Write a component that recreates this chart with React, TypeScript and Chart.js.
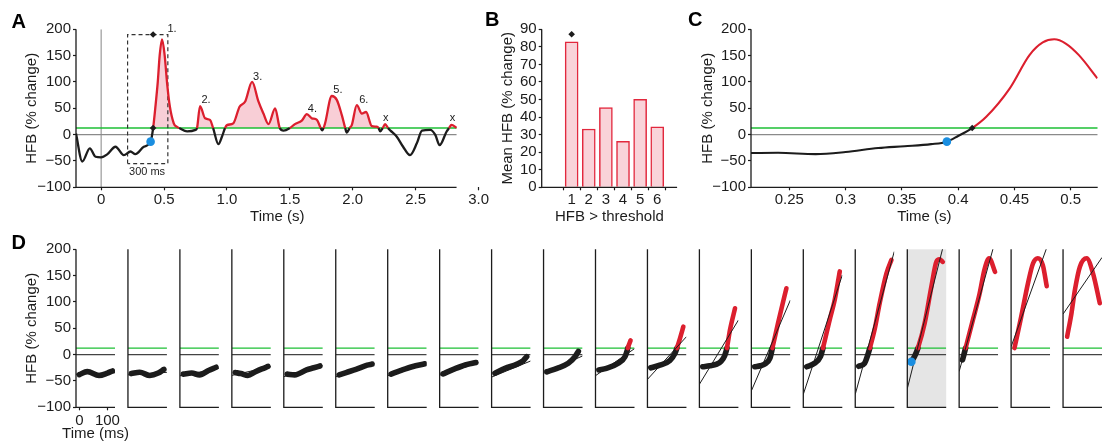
import React, { useEffect, useRef } from 'react';
import { Chart, registerables } from 'chart.js';

Chart.register(...registerables);

const FONT = "'Liberation Sans', Arial, Helvetica, sans-serif";
const INK = '#1c1c1c';
const RED = '#dc1f2e';
const PINK = 'rgba(236, 120, 140, 0.36)';
const GREEN = '#1cbf35';
const BLUE = '#1a8ee0';
const GRAY = '#8a8a8a';
const TH = 12.5;

// ---------- Panel A ----------
const A_TIME = [-0.2, -0.15, -0.09, -0.045, 0, 0.05, 0.114, 0.18, 0.233, 0.272, 0.339, 0.393, 0.413, 0.43, 0.45, 0.465, 0.484, 0.505, 0.524, 0.545, 0.577, 0.6, 0.62, 0.683, 0.75, 0.762, 0.786, 0.826, 0.865, 0.89, 0.932, 0.96, 0.985, 1.0, 1.05, 1.1, 1.145, 1.2, 1.25, 1.29, 1.33, 1.383, 1.42, 1.45, 1.5, 1.54, 1.595, 1.635, 1.675, 1.715, 1.745, 1.757, 1.768, 1.78, 1.833, 1.873, 1.913, 1.94, 1.952, 1.975, 1.992, 2.032, 2.072, 2.106, 2.15, 2.19, 2.205, 2.218, 2.238, 2.257, 2.28, 2.3, 2.35, 2.4, 2.455, 2.51, 2.55, 2.616, 2.656, 2.69, 2.746, 2.765, 2.785, 2.825];
const A_HFB = [2, -51, -26, -42, -43, -37, -23, -39, -32, -37, -23, -13.3, 12.5, 50, 100, 150, 181, 150, 98, 55, 21.5, 15, 12.5, 6, 9, 12.5, 54, 31, 28, 12.5, -18, -4, 12.5, 18, 21.5, 53, 63, 100, 63, 40, 20, 50, 12.5, 7.6, 12.5, 20, 26.6, 39, 31, 28, 12.5, 8, 12.5, 21.5, 73.4, 66, 37, 12.5, 4, 12.5, 18, 56, 40, 43, 16.5, 15, 12.5, 6, 12.5, 20, 12.5, 7.6, -4, -23, -39, -16, 7.6, 9, -0.6, -20, 6, 12.5, 18.4, 13];
const A_RANGE = [-0.2, 2.825];
const A_X_MIN = -0.2;
const A_X_MAX = 3.0;
const A_X_TICKS = [0, 0.5, 1, 1.5, 2, 2.5, 3];
const A_BOX_T = [0.21, 0.21, 0.53, 0.53, 0.21];
const A_BOX_V = [-55, 190, 190, -55, -55];
const A_ONSET = [0.393, -13.3];
const A_MARK_T = [0.413, 0.413];
const A_MARK_V = [190, 12.5];
const A_LABELS = ['1.', '2.', '3.', '4.', '5.', '6.', 'x', 'x', '300 ms'];
const A_LABEL_T = [0.563, 0.834, 1.244, 1.679, 1.882, 2.088, 2.263, 2.792, 0.365];
const A_LABEL_V = [200, 65, 109, 49, 84, 66, 32.5, 32.5, -71];

const HFB_MIN = -100;
const HFB_MAX = 200;
const HFB_TICKS = [-100, -50, 0, 50, 100, 150, 200];

// ---------- Panel B ----------
const B_CATS = [1, 2, 3, 4, 5, 6];
const B_MEAN = [82.9, 33.2, 45.4, 26.2, 50.1, 34.5];
const B_MARK = [1, 87.2];
const B_Y_TICKS = [0, 10, 20, 30, 40, 50, 60, 70, 80, 90];

// ---------- Panel C ----------
const C_TIME = [0.216, 0.24, 0.2734, 0.3, 0.329, 0.3524, 0.376, 0.39, 0.4, 0.4125, 0.425, 0.4459, 0.4634, 0.4752, 0.4854, 0.4956, 0.5073, 0.5237];
const C_HFB = [-35, -34.5, -37, -33, -25.5, -22, -18, -13.3, -2.5, 12.5, 34, 88, 151, 175, 181, 173, 151, 107];
const C_RANGE = [0.216, 0.524];
const C_X_TICKS = [0.25, 0.3, 0.35, 0.4, 0.45, 0.5];
const C_ONSET = [0.39, -13.3];
const C_MARK = [0.4125, 12.5];

// ---------- Panel D ----------
const D_MS = [
  [0, 28, 70, 100, 118],
  [0, 30, 66, 96, 116],
  [0, 30, 58, 90, 117],
  [0, 20, 45, 70, 95, 117],
  [0, 27, 69, 95, 117],
  [0, 25, 60, 100, 118],
  [0, 33, 75, 120],
  [0, 37, 79, 118],
  [0, 36, 77, 101, 113],
  [0, 36, 76, 100, 112],
  [0, 27, 69, 93, 101, 103, 113],
  [0, 32, 68, 86, 93, 104, 116],
  [0, 25, 50, 65, 78, 86, 97, 115],
  [0, 20, 36, 54, 63, 83, 101, 113],
  [0, 28, 49, 58, 82, 100, 118],
  [0, 21, 33, 40, 58, 75, 99, 117],
  [2.5, 15, 26, 50, 74, 92, 103, 115],
  [0, 11, 37, 61, 78, 95, 116],
  [0, 24, 48, 66, 83, 101, 115],
  [2.5, 18, 30, 48, 72, 95, 119],
];
const D_HFB = [
  [-38, -32, -39.5, -35, -31],
  [-36, -33.5, -39.5, -35, -28],
  [-37, -35, -38.5, -30, -24],
  [-34, -36, -39.5, -33, -27, -22.5],
  [-37, -38.5, -29, -25, -21.5],
  [-38.5, -34, -28, -20, -18],
  [-37, -30.5, -23, -17.5],
  [-36.5, -28, -19.6, -15],
  [-35.4, -26, -18.4, -11.4, -4],
  [-32.5, -26, -16.5, -4, 6],
  [-29, -26, -16.5, -4, 8, 12.5, 27],
  [-25, -20, -11, 2.5, 12.5, 31, 53],
  [-23, -21, -18, -13, -2, 12.5, 47, 88],
  [-23, -21, -18, -7, 12.5, 59.5, 100, 126],
  [-23, -16.5, -4, 12.5, 66, 104, 158],
  [-22, -16.5, 0, 12.5, 50, 97.5, 154, 180],
  [-13.4, -2, 12.5, 59.5, 129, 176.5, 181, 176],
  [-10, 12.5, 66, 116, 161, 183, 157],
  [12.5, 72, 135, 173, 183, 170, 130],
  [34, 78.5, 122, 167, 183, 154, 97.5],
];
// regression line of each window: HFB = intercept + slope * ms
const D_FIT_INTERCEPT = [-37, -38, -39, -38, -40, -40, -38, -37, -40, -32.6, -35.5, -40, -45.8, -54, -55.8, -51.9, -39.2, -8.8, 32.8, 86.3];
const D_FIT_SLOPE = [0.02, 0.035, 0.1, 0.12, 0.15, 0.18, 0.16, 0.17, 0.22, 0.237, 0.369, 0.583, 0.877, 1.24, 1.63, 1.95, 2.105, 1.93, 1.48, 0.774];
const D_HIGHLIGHT = 16;
const D_ONSET = [2.5, -13.4];
const D_X_MIN = -12;
const D_X_MAX = 127;
const D_X_TICKS = [0, 100];
const D_X_TITLE = 'Time (ms)';

// ---------- layout ----------
const TOP_PLOT_T = 29.3;
const TOP_PLOT_B = 187.3;
const D_PLOT_T = 249.3;
const D_PLOT_B = 407.3;
const D_LEFT0 = 76;
const D_STEP = 51.95;
const D_W = 39;

const TICK_FONT = { family: FONT, size: 15 };
const TITLE_FONT = { family: FONT, size: 15 };
const minus = (s: string) => s.replace('-', '\u2212');

const pts = (xs: number[], ys: number[]) => xs.map((x, i) => ({ x, y: ys[i] }));

const isRedSeg = (ctx: any) => ctx.p0.parsed.y >= TH - 0.01 && ctx.p1.parsed.y >= TH - 0.01;

function yAxis(o: { min: number; max: number; ticks: number[]; width: number; title: string; titleCenter: number }) {
  return {
    type: 'linear',
    min: o.min,
    max: o.max,
    afterBuildTicks: (s: any) => {
      s.ticks = o.ticks.map((v) => ({ value: v }));
    },
    afterFit: (s: any) => {
      s.width = o.width;
    },
    ticks: { color: INK, font: TICK_FONT, padding: 2, autoSkip: false, callback: (v: any) => minus(String(v)) },
    grid: { display: true, drawOnChartArea: false, drawTicks: true, tickLength: 3, tickColor: INK, tickWidth: 1.2 },
    border: { display: false },
    title: { display: true, text: o.title, color: INK, font: TITLE_FONT, padding: { top: o.titleCenter - 9, bottom: 0 } },
  };
}

function xAxis(o: { min: number; max: number; ticks: number[]; height: number; fmt: (v: number) => string; title: string | null; titleOffset: number; tickPad: number }) {
  return {
    type: 'linear',
    min: o.min,
    max: o.max,
    afterBuildTicks: (s: any) => {
      s.ticks = o.ticks.map((v) => ({ value: v }));
    },
    afterFit: (s: any) => {
      s.height = o.height;
    },
    ticks: { color: INK, font: TICK_FONT, padding: o.tickPad, autoSkip: false, maxRotation: 0, minRotation: 0, callback: (v: any) => o.fmt(Number(v)) },
    grid: { display: true, drawOnChartArea: false, drawTicks: true, tickLength: 3, tickColor: INK, tickWidth: 1.2 },
    border: { display: false },
    title: o.title
      ? { display: true, text: o.title, color: INK, font: TITLE_FONT, padding: { top: 0, bottom: o.titleOffset - 9 } }
      : { display: false },
  };
}

function makeSpines(xEnd?: number) {
  return {
    id: 'spines',
    afterDatasetsDraw(chart: any) {
      const { ctx, chartArea: ca, scales } = chart;
      const xe = xEnd != null ? scales.x.getPixelForValue(xEnd) : ca.right;
      ctx.save();
      ctx.strokeStyle = INK;
      ctx.lineWidth = 1.3;
      ctx.beginPath();
      ctx.moveTo(ca.left, ca.top);
      ctx.lineTo(ca.left, ca.bottom);
      ctx.lineTo(xe, ca.bottom);
      ctx.stroke();
      ctx.restore();
    },
  };
}

function makeShade(on: boolean) {
  return {
    id: 'shade',
    beforeDatasetsDraw(chart: any) {
      if (!on) return;
      const { ctx, chartArea: ca } = chart;
      ctx.save();
      ctx.fillStyle = '#e5e5e5';
      ctx.fillRect(ca.left, ca.top, ca.right - ca.left, ca.bottom - ca.top);
      ctx.restore();
    },
  };
}

// wide axis title that is not squeezed into the narrow plot width
function makeWideXTitle(text: string, offsetBelowPlot: number) {
  return {
    id: 'wideXTitle',
    afterDraw(chart: any) {
      const { ctx, chartArea: ca } = chart;
      ctx.save();
      ctx.fillStyle = INK;
      ctx.font = `15px ${FONT}`;
      ctx.textAlign = 'center';
      ctx.textBaseline = 'middle';
      ctx.fillText(text, (ca.left + ca.right) / 2, ca.bottom + offsetBelowPlot);
      ctx.restore();
    },
  };
}

function makeLabels(texts: string[], xs: number[], ys: number[]) {
  return {
    id: 'peakLabels',
    afterDatasetsDraw(chart: any) {
      const { ctx, scales } = chart;
      ctx.save();
      ctx.fillStyle = INK;
      ctx.font = `11px ${FONT}`;
      ctx.textAlign = 'center';
      ctx.textBaseline = 'middle';
      texts.forEach((t, i) => ctx.fillText(t, scales.x.getPixelForValue(xs[i]), scales.y.getPixelForValue(ys[i])));
      ctx.restore();
    },
  };
}

const pointDs = (data: any[], color: string, style: string, r: number) => ({
  type: 'line',
  data,
  showLine: false,
  pointStyle: style,
  pointRadius: r,
  pointHoverRadius: r,
  pointBackgroundColor: color,
  pointBorderColor: color,
  pointBorderWidth: 0,
  clip: false,
});

const lineDs = (data: any[], color: string, width: number, extra: any = {}) => ({
  type: 'line',
  data,
  borderColor: color,
  borderWidth: width,
  pointRadius: 0,
  tension: 0,
  fill: false,
  ...extra,
});

const baseOptions = (padding: any, scales: any) => ({
  animation: false,
  responsive: false,
  maintainAspectRatio: false,
  events: [],
  layout: { padding },
  plugins: { legend: { display: false }, tooltip: { enabled: false }, filler: { drawTime: 'beforeDatasetsDraw' } },
  scales,
});

// ---------- builders ----------
function buildA() {
  const W = 490;
  const H = 230;
  return {
    type: 'line',
    data: {
      datasets: [
        pointDs([{ x: A_ONSET[0], y: A_ONSET[1] }], BLUE, 'circle', 4.3),
        pointDs(pts(A_MARK_T, A_MARK_V), INK, 'rectRot', 3.3),
        {
          type: 'line',
          data: pts(A_TIME, A_HFB),
          borderWidth: 2.3,
          borderColor: INK,
          pointRadius: 0,
          cubicInterpolationMode: 'monotone',
          segment: { borderColor: (c: any) => (isRedSeg(c) ? RED : INK) },
          fill: { target: { value: TH }, above: PINK, below: 'rgba(0,0,0,0)' },
          borderJoinStyle: 'round',
        },
        lineDs(pts(A_BOX_T, A_BOX_V), '#333', 1.2, { borderDash: [4, 3] }),
        lineDs(pts(A_RANGE, [TH, TH]), GREEN, 1.5),
        lineDs(pts(A_RANGE, [0, 0]), GRAY, 1.2),
        lineDs(pts([0, 0], [HFB_MIN, HFB_MAX]), '#9a9a9a', 1.2),
      ],
    },
    options: baseOptions(
      { left: 0, top: TOP_PLOT_T, right: W - 478.7, bottom: 0 },
      {
        x: xAxis({ min: A_X_MIN, max: A_X_MAX, ticks: A_X_TICKS, height: H - TOP_PLOT_B, fmt: (v) => (v === 0 ? '0' : v.toFixed(1)), title: 'Time (s)', titleOffset: 13.3, tickPad: 1 }),
        y: yAxis({ min: HFB_MIN, max: HFB_MAX, ticks: HFB_TICKS, width: 76, title: 'HFB (% change)', titleCenter: 31.7 }),
      }
    ),
    plugins: [makeSpines(A_RANGE[1]), makeLabels(A_LABELS, A_LABEL_T, A_LABEL_V)],
  };
}

function buildB() {
  const X0 = 490;
  const W = 200;
  const H = 230;
  return {
    type: 'bar',
    data: {
      datasets: [
        pointDs([{ x: B_MARK[0], y: B_MARK[1] }], INK, 'rectRot', 3.3),
        {
          type: 'bar',
          data: pts(B_CATS, B_MEAN),
          backgroundColor: '#f9d3d9',
          borderColor: '#e2283d',
          borderWidth: 1.5,
          barThickness: 13,
        },
      ],
    },
    options: baseOptions(
      { left: 0, top: TOP_PLOT_T, right: X0 + W - 677.1, bottom: 0 },
      {
        x: xAxis({ min: -0.09, max: 6.5, ticks: B_CATS, height: H - TOP_PLOT_B, fmt: (v) => String(v), title: 'HFB > threshold', titleOffset: 13.3, tickPad: 1 }),
        y: yAxis({ min: 0, max: 90, ticks: B_Y_TICKS, width: 541.7 - X0, title: 'Mean HFB (% change)', titleCenter: 508.3 - X0 }),
      }
    ),
    plugins: [makeSpines()],
  };
}

function buildC() {
  const X0 = 690;
  const H = 230;
  return {
    type: 'line',
    data: {
      datasets: [
        pointDs([{ x: C_ONSET[0], y: C_ONSET[1] }], BLUE, 'circle', 4.3),
        pointDs([{ x: C_MARK[0], y: C_MARK[1] }], INK, 'rectRot', 3.3),
        {
          type: 'line',
          data: pts(C_TIME, C_HFB),
          borderWidth: 2.1,
          borderColor: INK,
          pointRadius: 0,
          cubicInterpolationMode: 'monotone',
          segment: { borderColor: (c: any) => (isRedSeg(c) ? RED : INK) },
          fill: false,
        },
        lineDs(pts(C_RANGE, [TH, TH]), GREEN, 1.5),
        lineDs(pts(C_RANGE, [0, 0]), GRAY, 1.2),
      ],
    },
    options: baseOptions(
      { left: 0, top: TOP_PLOT_T, right: 0, bottom: 0 },
      {
        x: xAxis({ min: C_RANGE[0], max: C_RANGE[1], ticks: C_X_TICKS, height: H - TOP_PLOT_B, fmt: (v) => String(v), title: 'Time (s)', titleOffset: 13.3, tickPad: 1 }),
        y: yAxis({ min: HFB_MIN, max: HFB_MAX, ticks: HFB_TICKS, width: 751 - X0, title: 'HFB (% change)', titleCenter: 707.7 - X0 }),
      }
    ),
    plugins: [makeSpines()],
  };
}

function buildD(i: number, canvasLeft: number, canvasTop: number, canvasW: number, canvasH: number) {
  const first = i === 0;
  const plotL = D_LEFT0 + D_STEP * i;
  const curve = pts(D_MS[i], D_HFB[i]);
  const fitX = [D_X_MIN, D_X_MAX];
  const fit = fitX.map((x) => ({ x, y: D_FIT_INTERCEPT[i] + D_FIT_SLOPE[i] * x }));
  const datasets: any[] = [];
  if (i === D_HIGHLIGHT) datasets.push(pointDs([{ x: D_ONSET[0], y: D_ONSET[1] }], BLUE, 'circle', 4.3));
  datasets.push(lineDs(fit, INK, 1));
  datasets.push({
    type: 'line',
    data: curve,
    borderColor: INK,
    borderWidth: 5.6,
    pointRadius: 0,
    cubicInterpolationMode: 'monotone',
    borderCapStyle: 'round',
    borderJoinStyle: 'round',
    segment: {
      borderColor: (c: any) => (isRedSeg(c) ? RED : INK),
      borderWidth: (c: any) => (isRedSeg(c) ? 4.6 : 5.6),
    },
    fill: false,
  });
  datasets.push(lineDs(pts(fitX, [TH, TH]), GREEN, 1.3));
  datasets.push(lineDs(pts(fitX, [0, 0]), '#444', 1.3));

  const padding = first
    ? { left: 0, top: D_PLOT_T - canvasTop, right: canvasLeft + canvasW - (plotL + D_W), bottom: 0 }
    : { left: plotL - canvasLeft, top: D_PLOT_T - canvasTop, right: canvasLeft + canvasW - (plotL + D_W), bottom: canvasTop + canvasH - D_PLOT_B };

  const scales = first
    ? {
        x: xAxis({ min: D_X_MIN, max: D_X_MAX, ticks: D_X_TICKS, height: canvasTop + canvasH - D_PLOT_B, fmt: (v) => String(v), title: null, titleOffset: 0, tickPad: 1.5 }),
        y: yAxis({ min: HFB_MIN, max: HFB_MAX, ticks: HFB_TICKS, width: plotL - canvasLeft, title: 'HFB (% change)', titleCenter: 31.7 }),
      }
    : {
        x: { type: 'linear', min: D_X_MIN, max: D_X_MAX, display: false },
        y: { type: 'linear', min: HFB_MIN, max: HFB_MAX, display: false },
      };

  const plugins: any[] = [makeShade(i === D_HIGHLIGHT), makeSpines()];
  if (first) plugins.push(makeWideXTitle(D_X_TITLE, 27));

  return {
    type: 'line',
    data: { datasets },
    options: baseOptions(padding, scales),
    plugins,
  };
}

function ChartCanvas({ x, y, w, h, build }: { x: number; y: number; w: number; h: number; build: () => any }) {
  const ref = useRef<HTMLCanvasElement>(null);
  useEffect(() => {
    if (!ref.current) return;
    const chart = new Chart(ref.current, build());
    return () => chart.destroy();
  }, []);
  return <canvas ref={ref} width={w} height={h} style={{ position: 'absolute', left: x, top: y, width: w, height: h }} />;
}

const letterStyle = (left: number, top: number): React.CSSProperties => ({
  position: 'absolute',
  left,
  top,
  fontFamily: FONT,
  fontWeight: 'bold',
  fontSize: 20,
  lineHeight: '20px',
  color: '#000',
});

export default function App() {
  const dPanels = D_MS.map((_, i) => {
    const plotL = D_LEFT0 + D_STEP * i;
    if (i === 0) {
      return <ChartCanvas key={i} x={0} y={230} w={140} h={215} build={() => buildD(0, 0, 230, 140, 215)} />;
    }
    const cl = Math.floor(plotL) - 4;
    return <ChartCanvas key={i} x={cl} y={240} w={48} h={175} build={() => buildD(i, cl, 240, 48, 175)} />;
  });
  return (
    <div style={{ position: 'fixed', left: 0, top: 0, width: 1102, height: 445, background: '#fff', overflow: 'hidden' }}>
      <ChartCanvas x={0} y={0} w={490} h={230} build={buildA} />
      <ChartCanvas x={490} y={0} w={200} h={230} build={buildB} />
      <ChartCanvas x={690} y={0} w={412} h={230} build={buildC} />
      {dPanels}
      <div style={letterStyle(11.5, 10.5)}>A</div>
      <div style={letterStyle(485, 9.1)}>B</div>
      <div style={letterStyle(688, 9.1)}>C</div>
      <div style={letterStyle(11.5, 232.4)}>D</div>
    </div>
  );
}
